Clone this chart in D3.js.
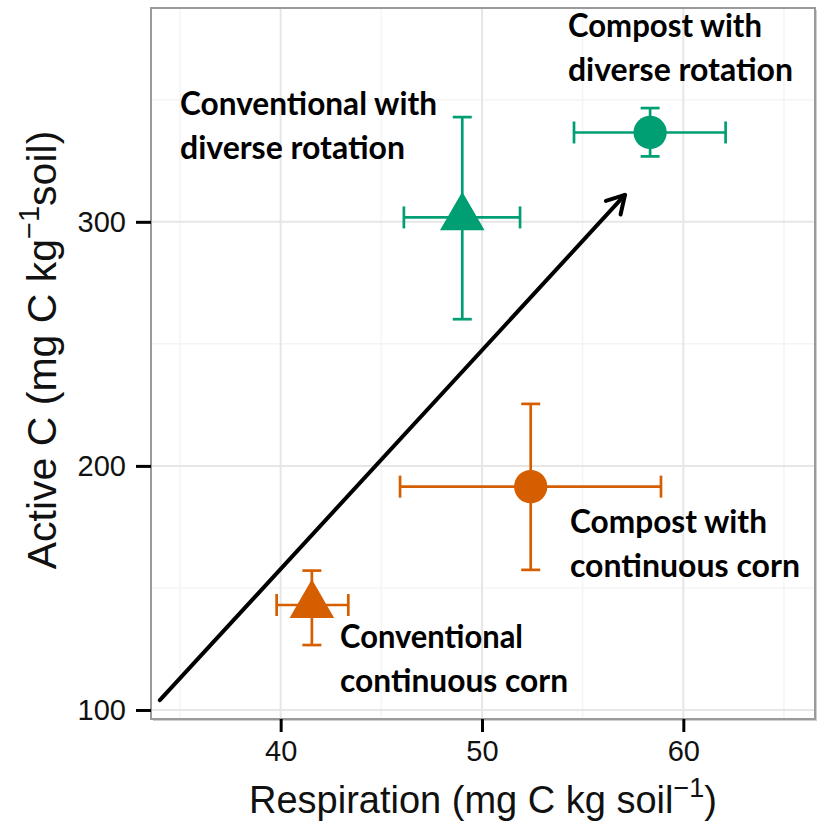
<!DOCTYPE html>
<html>
<head>
<meta charset="utf-8">
<script src="https://cdn.jsdelivr.net/npm/d3@7"></script>
<style>
  html, body { margin: 0; padding: 0; background: #fff; }
  svg { display: block; }
</style>
</head>
<body>
<svg id="chart" width="819" height="829"></svg>
<script>
// ---- data ----
const treatments = ["Conventional continuous corn", "Compost with continuous corn", "Conventional with diverse rotation", "Compost with diverse rotation"];
const rotation = ["corn", "corn", "diverse", "diverse"];
const amendment = ["conventional", "compost", "conventional", "compost"];
const respiration = [41.55, 52.42, 49.02, 58.35];
const respLow = [39.8, 45.93, 46.12, 54.57];
const respHigh = [43.36, 58.89, 51.89, 62.1];
const activeC = [143, 191.5, 301.8, 336.6];
const activeLow = [126.6, 157.4, 260.1, 326.8];
const activeHigh = [157.1, 225.4, 342.9, 346.6];
const xTicks = [40, 50, 60];
const yTicks = [100, 200, 300];
const xMinor = [35, 45, 55, 65];
const yMinor = [150, 250, 350];
const arrowFrom = [34.0, 104.0];
const arrowTo = [57.1, 311.0];
const labelLines = [["Conventional", "continuous corn"], ["Compost with", "continuous corn"], ["Conventional with", "diverse rotation"], ["Compost with", "diverse rotation"]];
const labelAt = [[42.95, 125.4], [54.37, 172.5], [35.0, 343.9], [54.27, 375.8]];
const labelWidths = [[183, 228], [197, 230], [257, 225], [194, 225]];

// ---- layout ----
const svg = d3.select("#chart");
const P = { left: 151, right: 815, top: 8, bottom: 719 };
const x = d3.scaleLinear().domain([33.56, 66.54]).range([P.left, P.right]);
const y = d3.scaleLinear().domain([96.3, 387.6]).range([P.bottom, P.top]);
const colorOf = d3.scaleOrdinal().domain(["corn", "diverse"]).range(["#D55E00", "#009E73"]);

// panel background + shadow
svg.append("rect").attr("x", P.left + 2).attr("y", P.top + 2)
  .attr("width", P.right - P.left).attr("height", P.bottom - P.top)
  .attr("fill", "#cfcfcf");
svg.append("rect").attr("x", P.left).attr("y", P.top)
  .attr("width", P.right - P.left).attr("height", P.bottom - P.top)
  .attr("fill", "#fff");

const grid = svg.append("g");
grid.selectAll(".xmin").data(xMinor).join("line")
  .attr("x1", d => x(d)).attr("x2", d => x(d)).attr("y1", P.top).attr("y2", P.bottom)
  .attr("stroke", "#f4f4f4").attr("stroke-width", 1.5);
grid.selectAll(".ymin").data(yMinor).join("line")
  .attr("y1", d => y(d)).attr("y2", d => y(d)).attr("x1", P.left).attr("x2", P.right)
  .attr("stroke", "#f4f4f4").attr("stroke-width", 1.5);
grid.selectAll(".xmaj").data(xTicks).join("line")
  .attr("x1", d => x(d)).attr("x2", d => x(d)).attr("y1", P.top).attr("y2", P.bottom)
  .attr("stroke", "#e6e6e6").attr("stroke-width", 2);
grid.selectAll(".ymaj").data(yTicks).join("line")
  .attr("y1", d => y(d)).attr("y2", d => y(d)).attr("x1", P.left).attr("x2", P.right)
  .attr("stroke", "#e6e6e6").attr("stroke-width", 2);

// arrow
const ax0 = x(arrowFrom[0]), ay0 = y(arrowFrom[1]), ax1 = x(arrowTo[0]), ay1 = y(arrowTo[1]);
const ang = Math.atan2(ay1 - ay0, ax1 - ax0);
const hl = 20, ha = Math.PI / 6;
svg.append("line").attr("x1", ax0).attr("y1", ay0).attr("x2", ax1).attr("y2", ay1)
  .attr("stroke", "#000").attr("stroke-width", 4).attr("stroke-linecap", "round");
svg.append("path")
  .attr("d", `M${ax1 - hl * Math.cos(ang - ha)},${ay1 - hl * Math.sin(ang - ha)} L${ax1},${ay1} L${ax1 - hl * Math.cos(ang + ha)},${ay1 - hl * Math.sin(ang + ha)}`)
  .attr("fill", "none").attr("stroke", "#000").attr("stroke-width", 4)
  .attr("stroke-linecap", "round").attr("stroke-linejoin", "round");

// error bars
const idx = d3.range(treatments.length);
const eb = svg.append("g").attr("stroke-width", 2.7).attr("fill", "none");
idx.forEach(i => {
  const c = colorOf(rotation[i]);
  const cx = x(respiration[i]), cy = y(activeC[i]);
  const g = eb.append("g").attr("stroke", c);
  g.append("line").attr("x1", x(respLow[i])).attr("x2", x(respHigh[i])).attr("y1", cy).attr("y2", cy);
  g.append("line").attr("x1", x(respLow[i])).attr("x2", x(respLow[i])).attr("y1", cy - 11).attr("y2", cy + 11);
  g.append("line").attr("x1", x(respHigh[i])).attr("x2", x(respHigh[i])).attr("y1", cy - 11).attr("y2", cy + 11);
  g.append("line").attr("x1", cx).attr("x2", cx).attr("y1", y(activeLow[i])).attr("y2", y(activeHigh[i]));
  g.append("line").attr("x1", cx - 9.5).attr("x2", cx + 9.5).attr("y1", y(activeLow[i])).attr("y2", y(activeLow[i]));
  g.append("line").attr("x1", cx - 9.5).attr("x2", cx + 9.5).attr("y1", y(activeHigh[i])).attr("y2", y(activeHigh[i]));
});

// points
svg.append("g").selectAll("path").data(idx).join("path")
  .attr("transform", i => `translate(${x(respiration[i])},${y(activeC[i])})`)
  .attr("d", i => d3.symbol().type(amendment[i] === "compost" ? d3.symbolCircle : d3.symbolTriangle)
    .size(amendment[i] === "compost" ? 870 : 860)())
  .attr("fill", i => colorOf(rotation[i]));

// panel border
svg.append("rect").attr("x", P.left).attr("y", P.top)
  .attr("width", P.right - P.left).attr("height", P.bottom - P.top)
  .attr("fill", "none").attr("stroke", "#9a9a9a").attr("stroke-width", 2);

// labels
const lab = svg.append("g").attr("font-family", "Lato, 'Open Sans', sans-serif")
  .attr("font-weight", "bold").attr("font-size", 32).attr("fill", "#000");
idx.forEach(i => {
  labelLines[i].forEach((t, k) => {
    lab.append("text").attr("x", x(labelAt[i][0])).attr("y", y(labelAt[i][1]) + k * 44)
      .attr("textLength", labelWidths[i][k]).attr("lengthAdjust", "spacingAndGlyphs")
      .text(t);
  });
});

// axes
const xAxis = svg.append("g").attr("transform", `translate(0,${P.bottom})`)
  .call(d3.axisBottom(x).tickValues(xTicks).tickSize(13).tickPadding(8));
const yAxis = svg.append("g").attr("transform", `translate(${P.left},0)`)
  .call(d3.axisLeft(y).tickValues(yTicks).tickSize(15).tickPadding(10));
[xAxis, yAxis].forEach(a => {
  a.select(".domain").remove();
  a.selectAll(".tick line").attr("stroke", "#000").attr("stroke-width", 3);
  a.selectAll(".tick text").attr("font-family", "Arial, 'Liberation Sans', sans-serif")
    .attr("font-size", 29).attr("fill", "#111");
});

// axis titles
const xt = svg.append("text").attr("x", (P.left + P.right) / 2).attr("y", 813)
  .attr("text-anchor", "middle").attr("font-family", "Arial, 'Liberation Sans', sans-serif")
  .attr("font-size", 38).attr("fill", "#111");
xt.append("tspan").text("Respiration (mg C kg soil");
xt.append("tspan").attr("font-size", 27).attr("dy", -16).text("\u22121");
xt.append("tspan").attr("dy", 16).text(")");

const yt = svg.append("text").attr("transform", `translate(56,350) rotate(-90)`)
  .attr("text-anchor", "middle").attr("font-family", "Arial, 'Liberation Sans', sans-serif")
  .attr("font-size", 41).attr("fill", "#111");
yt.append("tspan").text("Active C (mg C kg");
yt.append("tspan").attr("font-size", 29).attr("dy", -17).text("\u22121");
yt.append("tspan").attr("dy", 17).text("soil)");
</script>
</body>
</html>
